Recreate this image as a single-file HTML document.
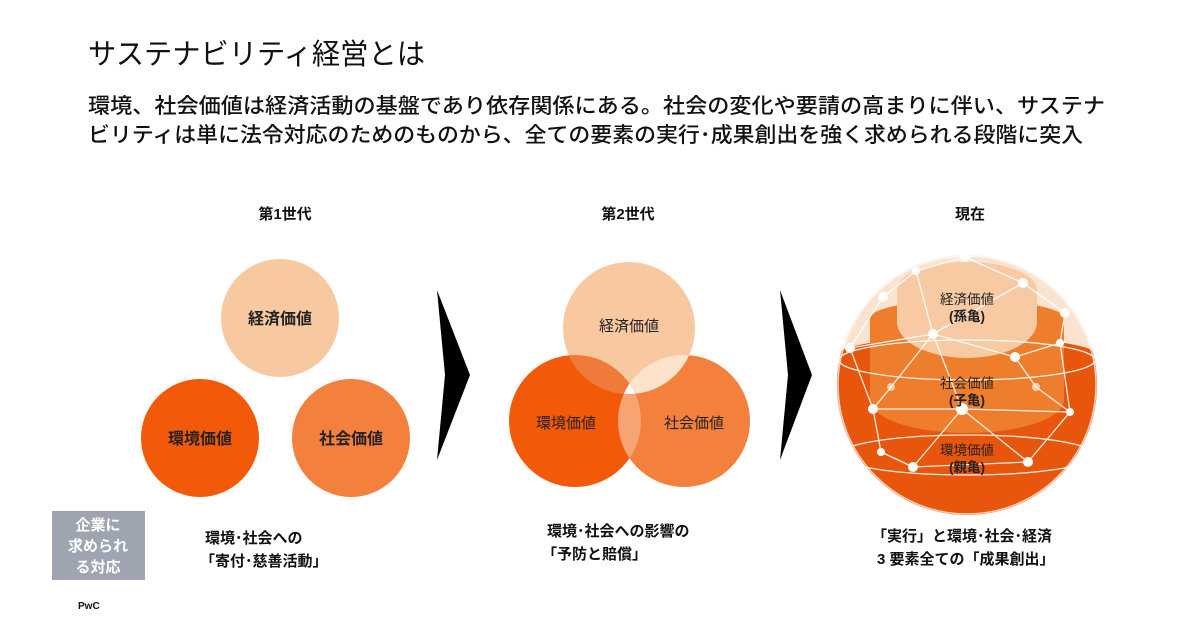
<!DOCTYPE html>
<html><head><meta charset="utf-8"><style>
html,body{margin:0;padding:0;background:#fff;width:1200px;height:630px;overflow:hidden}
svg text{font-family:"Liberation Sans","Noto Sans CJK JP",sans-serif}
</style></head><body>
<svg width="1200" height="630" viewBox="0 0 1200 630" xmlns="http://www.w3.org/2000/svg">
<defs>
<clipPath id="cT"><circle cx="629" cy="328" r="66"/></clipPath>
<clipPath id="sph"><circle cx="967" cy="385" r="130"/></clipPath>
</defs>
<text x="88" y="64" font-size="29" fill="#111" textLength="337" lengthAdjust="spacingAndGlyphs">サステナビリティ経営とは</text>
<text x="88" y="113" font-size="21" fill="#111" font-weight="500" textLength="1017" lengthAdjust="spacingAndGlyphs">環境、社会価値は経済活動の基盤であり依存関係にある。社会の変化や要請の高まりに伴い、サステナ</text>
<text x="88" y="142" font-size="21" fill="#111" font-weight="500" textLength="995" lengthAdjust="spacingAndGlyphs">ビリティは単に法令対応のためのものから、全ての要素の実行･成果創出を強く求められる段階に突入</text>

<g font-size="15" font-weight="bold" text-anchor="middle" fill="#111">
<text x="285" y="219">第1世代</text>
<text x="628" y="219">第2世代</text>
<text x="970" y="219">現在</text>
</g>

<!-- gen 1 -->
<circle cx="280" cy="318" r="59" fill="#f8c9a0"/>
<circle cx="200" cy="438" r="59" fill="#f25a0a"/>
<circle cx="351" cy="438" r="59" fill="#f4803e"/>
<g font-size="16" font-weight="bold" text-anchor="middle" fill="#222">
<text x="280" y="324">経済価値</text>
<text x="200" y="444">環境価値</text>
<text x="351" y="444">社会価値</text>
</g>

<polygon points="437,290 470,375 437,460 445,375" fill="#000"/>
<polygon points="780,290 812,375 780,460 788,375" fill="#000"/>

<!-- gen 2 -->
<circle cx="575" cy="421" r="66" fill="#f25a0a"/>
<circle cx="684" cy="421" r="66" fill="#f4803e"/>
<circle cx="629" cy="328" r="66" fill="#f8c9a0"/>
<g clip-path="url(#cT)"><circle cx="575" cy="421" r="66" fill="#f07a3a"/></g>
<g clip-path="url(#cT)"><circle cx="684" cy="421" r="66" fill="#fbe3cc"/></g>
<path d="M629.5,383.8 A66,66 0 0,1 629.5,458.2 A66,66 0 0,1 629.5,383.8 Z" fill="#f6a472"/>
<g clip-path="url(#cT)"><path d="M629.5,383.8 A66,66 0 0,1 629.5,458.2 A66,66 0 0,1 629.5,383.8 Z" fill="#fff"/></g>
<g font-size="15" text-anchor="middle" fill="#222">
<text x="629" y="331">経済価値</text>
<text x="566" y="428">環境価値</text>
<text x="694" y="428">社会価値</text>
</g>

<!-- sphere -->
<circle cx="967" cy="385" r="130" fill="#fae3cf"/>
<g clip-path="url(#sph)">
<rect x="830" y="355" width="280" height="170" fill="#e8550c"/>
<ellipse cx="967" cy="355" rx="130" ry="18" fill="#e8550c"/>
<ellipse cx="967" cy="400" rx="97" ry="33" fill="#ee7d2c"/>
<rect x="870" y="318" width="194" height="82" fill="#ee7d2c"/>
<ellipse cx="967" cy="318" rx="97" ry="18" fill="#ee7d2c"/>
<ellipse cx="967" cy="322" rx="70" ry="36" fill="#f7caa3"/>
<rect x="897" y="290" width="140" height="32" fill="#f7caa3"/>
<ellipse cx="967" cy="290" rx="70" ry="28" fill="#f7caa3"/>
<g stroke="#fff" stroke-width="1.3" fill="none" opacity="0.9">
<polyline points="965,257 916,271 883,297 850,348 873,409 881,452 913,467 962,409 1028,462 1070,412 1060,343 1065,313 1023,283 965,257"/>
<polyline points="916,271 933,334 1015,357 1060,343"/>
<polyline points="850,348 933,334 1023,283"/>
<polyline points="933,334 891,387 873,409"/>
<polyline points="933,334 962,409 1070,412"/>
<polyline points="1015,357 1036,387 1070,412"/>
<polyline points="873,409 962,409"/>
<polyline points="881,452 913,467 1028,462"/>
<ellipse cx="967" cy="455" rx="128" ry="20"/>
<ellipse cx="967" cy="360" rx="128" ry="20"/>
</g>
<g fill="#fff">
<circle cx="965" cy="257" r="5"/><circle cx="916" cy="271" r="4"/><circle cx="883" cy="297" r="5"/>
<circle cx="1023" cy="283" r="5"/><circle cx="1065" cy="313" r="5"/><circle cx="850" cy="348" r="5"/>
<circle cx="933" cy="334" r="5"/><circle cx="1015" cy="357" r="5"/><circle cx="1060" cy="343" r="4"/>
<circle cx="891" cy="387" r="4" opacity="0.6"/><circle cx="1036" cy="387" r="4" opacity="0.6"/>
<circle cx="873" cy="409" r="5"/><circle cx="962" cy="409" r="6"/><circle cx="1070" cy="412" r="4"/>
<circle cx="881" cy="452" r="4"/><circle cx="913" cy="467" r="5"/><circle cx="1028" cy="462" r="5"/>
</g>
</g>
<circle cx="967" cy="385" r="129" fill="none" stroke="#fff" stroke-width="1.5" opacity="0.7"/>
<g font-size="13.5" text-anchor="middle" fill="#222">
<text x="967" y="304">経済価値</text><text x="967" y="321" font-weight="bold">(孫亀)</text>
<text x="967" y="388">社会価値</text><text x="967" y="405" font-weight="bold">(子亀)</text>
<text x="967" y="455">環境価値</text><text x="967" y="472" font-weight="bold">(親亀)</text>
</g>

<!-- bottom -->
<rect x="52" y="511" width="93" height="69" fill="#9ea5b0"/>
<g font-size="15" font-weight="bold" fill="#fff" text-anchor="middle">
<text x="98" y="530">企業に</text><text x="98" y="551">求められ</text><text x="98" y="572">る対応</text>
</g>
<text x="78" y="609" font-size="10" font-weight="bold" fill="#111">PwC</text>
<g font-size="15" font-weight="bold" fill="#111">
<text x="205" y="543">環境･社会への</text><text x="200" y="566">「寄付･慈善活動」</text>
<text x="547" y="536">環境･社会への影響の</text><text x="542" y="559">「予防と賠償」</text>
<text x="872" y="541">「実行」と環境･社会･経済</text><text x="877" y="564">3 要素全ての「成果創出」</text>
</g>
</svg>
</body></html>
